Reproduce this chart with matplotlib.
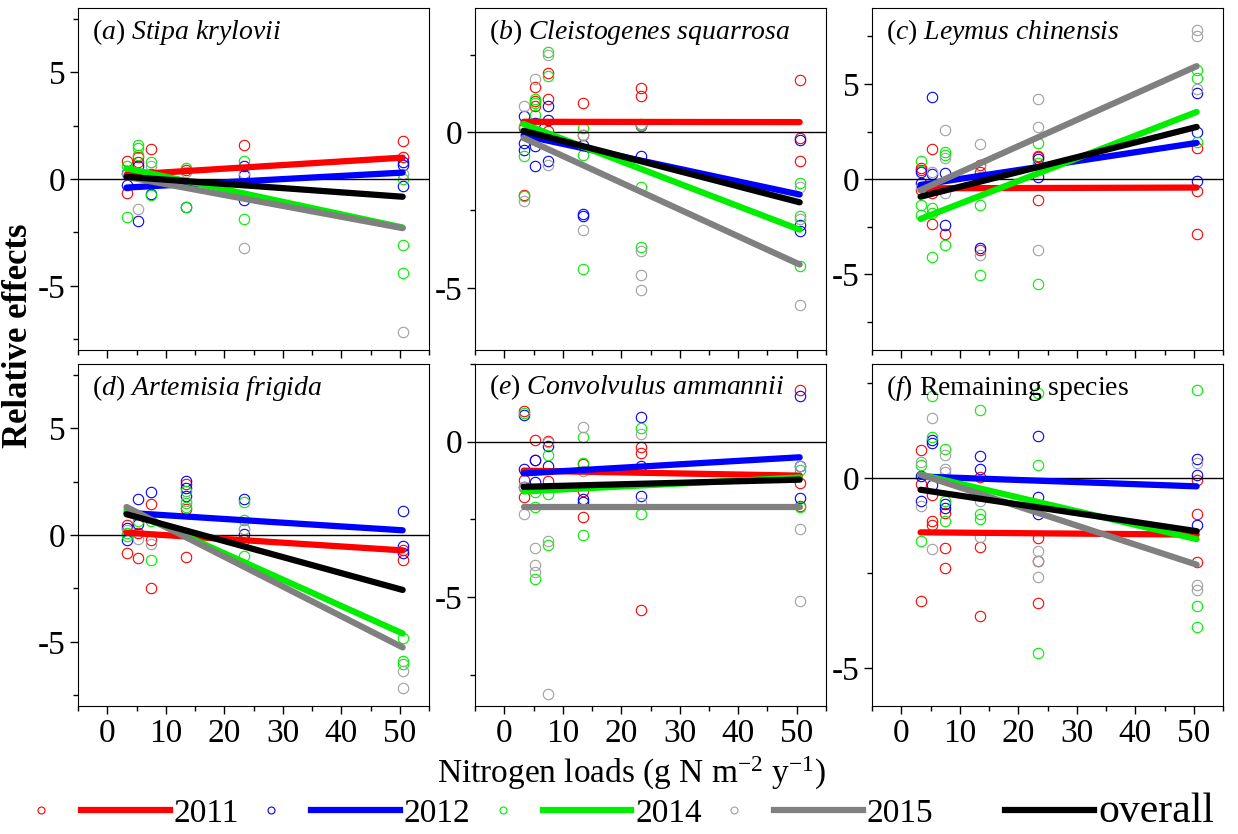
import matplotlib
matplotlib.use("Agg")
import matplotlib.pyplot as plt
from matplotlib.lines import Line2D
from matplotlib.legend_handler import HandlerBase
from matplotlib.ticker import MultipleLocator

plt.rcParams["font.family"] = ["Liberation Serif", "DejaVu Serif"]
plt.rcParams["mathtext.fontset"] = "custom"
plt.rcParams["mathtext.rm"] = "Liberation Serif"
plt.rcParams["mathtext.it"] = "Liberation Serif:italic"
plt.rcParams["axes.unicode_minus"] = False

# nitrogen load columns (x) and years
N_LOADS = [3.3, 5.3, 7.4, 13.4, 23.4, 50.5]
YEARS = ["2011", "2012", "2014", "2015"]
FIT_X = [3.3, 50.5]

# observed relative effects, one list per N-load column
# (a) Stipa krylovii
A_2011 = [[0.84, -0.64], [1.05, 0.8], [1.4, 0.25], [0.4], [1.6], [1.8, 1.05]]
A_2012 = [[0.3, -0.3], [0.6, -1.95], [-0.7], [-1.3], [0.6, 0.2, -1.0], [0.8, 0.65, -0.33]]
A_2014 = [[0.62, -1.8], [1.6, 1.45, 1.1], [0.8, -0.75], [0.5, -1.3], [0.85, -1.85], [0.0, -3.1, -4.4]]
A_2015 = [[0.25], [-1.4], [0.6], [0.35], [0.3, -3.25], [0.25, -7.15]]
# (b) Cleistogenes squarrosa
B_2011 = [[0.14, -2.0], [1.46, 0.84, 1.0], [1.9, 1.08, 0.03], [0.94, -0.1], [1.42, 1.18, 0.21], [1.69, -0.18, -0.93]]
B_2012 = [[0.54, -0.34, -0.56], [0.3, -0.45, -1.07], [0.84, 0.4, -0.93], [-0.42, -2.64, -2.7], [0.25, -0.77], [-0.24, -2.97, -3.16]]
B_2014 = [[0.2, -0.77, -2.05], [1.08, 0.94, 0.57], [2.6, 1.82], [0.14, -0.72, -4.39], [0.28, -1.76, -3.68], [-1.63, -2.68, -4.3]]
B_2015 = [[0.86, -2.2], [1.72], [2.5, -1.04], [-0.07, -3.13], [0.25, -3.82, -4.58, -5.07], [-1.77, -2.8, -5.54]]
# (c) Leymus chinensis
C_2011 = [[0.6, 0.47, -0.58], [1.6, -0.75, -2.38], [-2.88], [0.73, 0.38, -3.76], [1.22, 1.14, -1.1], [1.64, -0.61, -2.88]]
C_2012 = [[0.38, -0.2], [4.32, 0.26], [0.3, -2.41], [-3.64], [1.03, 0.12], [4.53, 2.48, -0.1]]
C_2014 = [[0.96, -1.36, -1.89], [-1.54, -1.8, -4.1], [1.43, 1.26, -3.46], [-1.36, -5.03], [1.87, 0.82, -5.51], [5.75, 5.31, 1.96]]
C_2015 = [[-0.4], [0.38], [2.57, 1.08, -0.72], [1.84, 0.65, -3.99], [4.23, 2.74, -3.76], [7.85, 7.5, 4.76]]
# (d) Artemisia frigida
D_2011 = [[0.45, -0.83], [0.1, -1.06], [1.46, -0.25, -2.46], [2.37, 1.2, -1.01], [-0.25], [-0.72, -1.18]]
D_2012 = [[0.34, -0.25], [1.67, 0.53], [2.0], [2.52, 2.18, 1.82], [1.67, 0.06], [1.12, -0.51, -0.83]]
D_2014 = [[0.1, -0.05], [0.65], [0.65, -1.18], [2.06, 1.51, 1.31], [1.56, 0.69, -0.98], [-4.83, -5.89, -6.04]]
D_2015 = [[0.25], [-0.2], [-0.4], [1.6], [0.3, 0.26], [-6.36, -7.17]]
# (e) Convolvulus ammannii
E_2011 = [[1.0, -1.23, -1.79], [0.06, -0.6], [0.03, -1.27], [-0.72, -1.57, -2.43], [-0.16, -0.37, -5.41], [1.66, -1.34, -2.06]]
E_2012 = [[0.86, -0.88, -1.45], [-0.58, -1.28], [-0.15, -0.79], [-1.84, -1.95], [0.8, -0.77, -1.73], [1.48, -0.77, -1.81]]
E_2014 = [[0.92], [-1.63, -2.09, -4.41], [-0.42, -1.68, -3.31], [0.16, -0.7, -2.99], [0.44, -2.32], [-0.91, -2.11]]
E_2015 = [[-1.45, -2.34], [-3.43, -3.98, -4.2], [0.0, -3.18, -8.13], [0.48, -0.95], [0.25, -1.98], [-0.77, -2.81, -5.11]]
# (f) Remaining species
F_2011 = [[0.73, -0.15, -3.23], [-0.44, -1.14, -1.23], [-0.92, -1.84, -2.37], [0.03, -1.82, -3.62], [-1.58, -2.18, -3.29], [-0.04, -0.94, -2.21]]
F_2012 = [[0.04, -0.61], [1.01, 0.92, -0.18], [-0.68, -0.79], [0.57, 0.24], [1.1, -0.5, -0.96], [0.5, 0.09, -1.23]]
F_2014 = [[0.35, -1.65], [2.17, 1.08], [0.77, -0.61, -1.14], [1.8, -0.96, -1.08], [2.24, 0.35, -4.61], [2.32, -3.38, -3.92]]
F_2015 = [[0.41, -0.73], [1.58, -1.87], [0.61, 0.24, 0.15], [-0.61, -1.54], [-1.93, -2.18, -2.61], [0.39, -2.81, -2.94]]

# fitted lines (value at low N, value at high N): 2011, 2012, 2014, 2015, overall
FIT_A = [[0.2, 1.0], [-0.4, 0.3], [0.5, -2.27], [0.1, -2.3], [0.1, -0.83]]
FIT_B = [[0.34, 0.33], [-0.1, -2.0], [0.27, -3.13], [-0.18, -4.25], [0.05, -2.25]]
FIT_C = [[-0.49, -0.45], [-0.31, 1.9], [-2.1, 3.53], [-0.58, 5.94], [-0.93, 2.74]]
FIT_D = [[0.11, -0.72], [1.04, 0.22], [1.2, -4.61], [1.31, -5.26], [0.97, -2.57]]
FIT_E = [[-0.93, -1.09], [-1.02, -0.5], [-1.6, -1.15], [-2.11, -2.11], [-1.45, -1.22]]
FIT_F = [[-1.43, -1.49], [0.04, -0.22], [0.09, -1.61], [0.09, -2.28], [-0.31, -1.40]]

TITLES = [r"($\mathit{a}$) $\mathit{Stipa\ krylovii}$",
          r"($\mathit{b}$) $\mathit{Cleistogenes\ squarrosa}$",
          r"($\mathit{c}$) $\mathit{Leymus\ chinensis}$",
          r"($\mathit{d}$) $\mathit{Artemisia\ frigida}$",
          r"($\mathit{e}$) $\mathit{Convolvulus\ ammannii}$",
          r"($\mathit{f}$) Remaining species"]
YLIMS = [(-8, 8), (-7, 4), (-9, 9), (-8, 8), (-8.5, 2.5), (-6, 3)]

PTS = [[A_2011, A_2012, A_2014, A_2015], [B_2011, B_2012, B_2014, B_2015],
       [C_2011, C_2012, C_2014, C_2015], [D_2011, D_2012, D_2014, D_2015],
       [E_2011, E_2012, E_2014, E_2015], [F_2011, F_2012, F_2014, F_2015]]
FITS = [FIT_A, FIT_B, FIT_C, FIT_D, FIT_E, FIT_F]

PT_COLORS = ["#ff0000", "#0000ff", "#00ee00", "#a0a0a0"]
LINE_COLORS = ["#ff0000", "#0000ff", "#00ee00", "#808080", "#000000"]

fig = plt.figure(figsize=(12.38, 8.34), dpi=100)
lefts = [78 / 1238, 475 / 1238, 872 / 1238]
bottoms = [1 - 350 / 834, 1 - 706 / 834]
w, h = 351 / 1238, 342 / 834

for i in range(6):
    row, col = divmod(i, 3)
    ax = fig.add_axes([lefts[col], bottoms[row], w, h])
    for yi in range(4):
        for x, vals in zip(N_LOADS, PTS[i][yi]):
            ax.plot([x] * len(vals), vals, ls="none", marker="o", ms=7.5,
                    mfc="none", mec=PT_COLORS[yi], mew=0.8)
    ax.axhline(0, color="black", lw=1)
    for k in range(5):
        ax.plot(FIT_X, FITS[i][k], color=LINE_COLORS[k], lw=4.5,
                solid_capstyle="round")
    ax.set_xlim(-5, 55)
    ax.set_ylim(*YLIMS[i])
    ax.xaxis.set_major_locator(MultipleLocator(10))
    ax.xaxis.set_minor_locator(MultipleLocator(5))
    ax.yaxis.set_major_locator(MultipleLocator(5))
    ax.yaxis.set_minor_locator(MultipleLocator(2.5))
    ax.tick_params(which="major", direction="out", length=6, width=1,
                   labelsize=24, pad=3)
    ax.tick_params(which="minor", direction="out", length=3.5, width=1)
    if row == 0:
        ax.tick_params(labelbottom=False)
    ax.text(0.04, 0.975, TITLES[i], transform=ax.transAxes, fontsize=20,
            ha="left", va="top")

fig.text(0.015, 0.598, "Relative effects", rotation=90, fontsize=25,
         fontweight="bold", ha="center", va="center")
fig.text(0.51, 0.073, r"Nitrogen loads (g N m$^{-2}$ y$^{-1}$)",
         fontsize=24, ha="center", va="center")


class PairHandler(HandlerBase):
    def create_artists(self, legend, orig_handle, xdescent, ydescent,
                       width, height, fontsize, trans):
        mk, ln = orig_handle
        y = height / 2 - ydescent
        arts = []
        if mk is not None:
            m = Line2D([-xdescent + 0.07 * width], [y], ls="none", marker="o",
                       ms=5, mfc="none", mec=mk.get_markeredgecolor(), mew=0.8)
            m.set_transform(trans)
            arts.append(m)
        l = Line2D([-xdescent + 0.36 * width, -xdescent + width], [y, y],
                   color=ln.get_color(), lw=4.5)
        l.set_transform(trans)
        arts.append(l)
        return arts


handles = []
for yi in range(4):
    mk = Line2D([], [], ls="none", marker="o", mfc="none", mec=PT_COLORS[yi])
    ln = Line2D([], [], color=LINE_COLORS[yi])
    handles.append((mk, ln))
handles.append((None, Line2D([], [], color=LINE_COLORS[4])))
labels = YEARS + ["overall"]

leg = fig.legend(handles, labels, handler_map={tuple: PairHandler()},
                 loc="center", bbox_to_anchor=(0.503, 0.027), ncol=5,
                 frameon=False, fontsize=24, handlelength=4.15,
                 handletextpad=0.12, columnspacing=0.67, borderpad=0.1)
leg.get_texts()[-1].set_fontsize(30)

fig.savefig("out.png", dpi=100)
